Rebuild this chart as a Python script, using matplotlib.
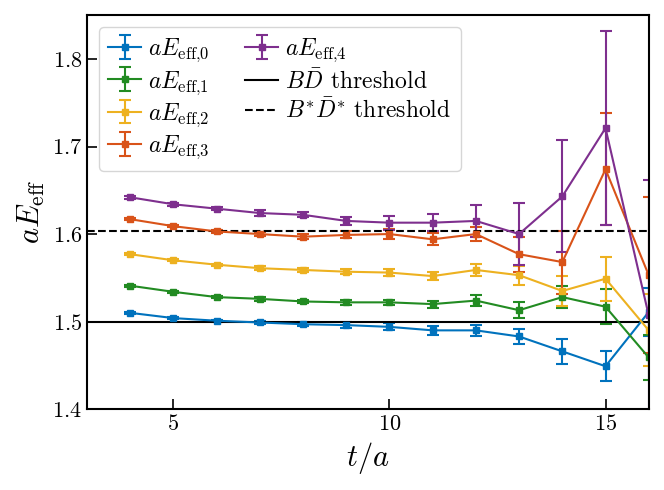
import matplotlib
matplotlib.use("Agg")
import matplotlib.pyplot as plt

plt.rcParams['font.family'] = 'serif'
plt.rcParams['font.serif'] = ['cmr10']
plt.rcParams['mathtext.fontset'] = 'cm'
plt.rcParams['axes.formatter.use_mathtext'] = True

# t/a values
t = [4, 5, 6, 7, 8, 9, 10, 11, 12, 13, 14, 15, 16]

# effective energies and errors
e0 = [1.510, 1.504, 1.501, 1.499, 1.497, 1.496, 1.494, 1.490, 1.490, 1.483, 1.466, 1.449, 1.511]
d0 = [0.001, 0.001, 0.001, 0.002, 0.002, 0.003, 0.004, 0.005, 0.006, 0.009, 0.014, 0.017, 0.027]
e1 = [1.541, 1.534, 1.528, 1.526, 1.523, 1.522, 1.522, 1.520, 1.524, 1.513, 1.528, 1.517, 1.459]
d1 = [0.001, 0.001, 0.001, 0.002, 0.002, 0.003, 0.003, 0.004, 0.006, 0.009, 0.013, 0.020, 0.026]
e2 = [1.577, 1.570, 1.565, 1.561, 1.559, 1.557, 1.556, 1.552, 1.559, 1.553, 1.535, 1.549, 1.490]
d2 = [0.001, 0.001, 0.001, 0.002, 0.002, 0.003, 0.004, 0.005, 0.007, 0.011, 0.017, 0.025, 0.041]
e3 = [1.617, 1.609, 1.603, 1.600, 1.597, 1.599, 1.600, 1.594, 1.600, 1.577, 1.568, 1.674, 1.553]
d3 = [0.001, 0.001, 0.002, 0.002, 0.003, 0.004, 0.006, 0.007, 0.008, 0.020, 0.036, 0.064, 0.089]
e4 = [1.642, 1.634, 1.629, 1.624, 1.622, 1.615, 1.613, 1.613, 1.615, 1.600, 1.643, 1.721, 1.507]
d4 = [0.002, 0.002, 0.002, 0.003, 0.003, 0.005, 0.008, 0.010, 0.018, 0.035, 0.064, 0.111, 0.155]

energies = [e0, e1, e2, e3, e4]
errors = [d0, d1, d2, d3, d4]
colors = ['#0072BD', '#228B22', '#EDB120', '#D95319', '#7E2F8E']

bd_threshold = 1.500
bsds_threshold = 1.604

fig = plt.figure(figsize=(6.64, 4.9), dpi=100)
ax = fig.add_axes([0.131, 0.165, 0.846, 0.804])

handles = []
for i in range(5):
    h = ax.errorbar(t, energies[i], yerr=errors[i], color=colors[i], marker='s', markersize=4,
                    linewidth=1.5, capsize=4, capthick=1.5, elinewidth=1.5,
                    label=r'$aE_{\mathrm{eff{,}%d}}$' % i)
    handles.append(h)

h1 = ax.axhline(bd_threshold, color='black', linestyle='-', linewidth=1.5, label=r'$B\bar{D}$ threshold')
h2 = ax.axhline(bsds_threshold, color='black', linestyle='--', linewidth=1.5, label=r'$B^{*}\bar{D}^{*}$ threshold')
handles += [h1, h2]

ax.set_xlim(3, 16)
ax.set_ylim(1.4, 1.85)
ax.set_xticks([5, 10, 15])
ax.set_yticks([1.4, 1.5, 1.6, 1.7, 1.8])
ax.tick_params(direction='in', length=7, width=1.2, labelsize=16)
for s in ax.spines.values():
    s.set_linewidth(1.5)

ax.set_xlabel(r'$t/a$', fontsize=22)
ax.set_ylabel(r'$aE_{\mathrm{eff}}$', fontsize=22)

ax.legend(handles=handles, loc='upper left', ncol=2, fontsize=17, handlelength=1.4, handletextpad=0.3,
          columnspacing=1.5, labelspacing=0.2, borderpad=0.4)

fig.savefig('out.png', dpi=100)
